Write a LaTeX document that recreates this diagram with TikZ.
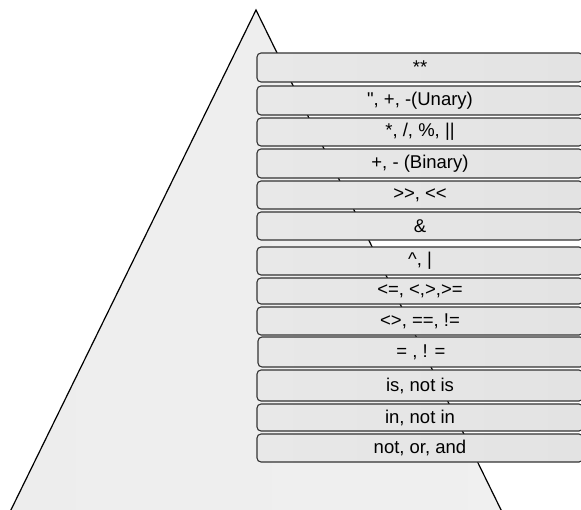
\documentclass[tikz,border=0pt]{standalone}
\usepackage{fontspec}
\newfontfamily\opfont{Liberation Sans}
\begin{document}
\begin{tikzpicture}[
  x=1pt,y=-1pt,
  opbox/.style={draw=black!80,line width=1.1pt,rounded corners=4pt,
    left color=black!9,middle color=black!2,right color=black!11,
    minimum width=326pt,inner sep=0pt,
    font=\opfont\fontsize{18.5}{21}\selectfont},
  pyramid/.style={draw=black,line width=1.2pt,
    left color=black!7,middle color=white,right color=black!6}
]
  \useasboundingbox (0,0) rectangle (581,509);

  % the pyramid behind the table, base runs off the bottom
  \path[pyramid] (256,10) -- (506,520) -- (6,520) -- cycle;

  % operator rows, highest precedence on top
  \node[opbox,minimum height=29pt] (pow)   at (420,67.5)  {**};
  \node[opbox,minimum height=29pt] (unary) at (420,100.5) {", +, -(Unary)};
  \node[opbox,minimum height=28pt] (mul)   at (420,132)   {*, /, \%, ||};
  \node[opbox,minimum height=29pt] (add)   at (420,163.5) {+, - (Binary)};
  \node[opbox,minimum height=28pt] (shift) at (420,195)   {>>, <<};
  \node[opbox,minimum height=28pt] (band)  at (420,226)   {\&};
  \node[opbox,minimum height=28pt] (bor)   at (420,261)   {\textasciicircum, |};
  \node[opbox,minimum height=26pt] (cmp)   at (420,291)   {<=, <,>,>=};
  \node[opbox,minimum height=28pt] (eq)    at (420,321)   {<>, ==, !=};
  \node[opbox,minimum height=30pt] (asg)   at (421,352)   {= , ! =};
  \node[opbox,minimum height=31pt] (ident) at (420,385.5) {is, not is};
  \node[opbox,minimum height=27pt] (memb)  at (420,417.5) {in, not in};
  \node[opbox,minimum height=28pt] (logic) at (420,448)   {not, or, and};
\end{tikzpicture}
\end{document}
